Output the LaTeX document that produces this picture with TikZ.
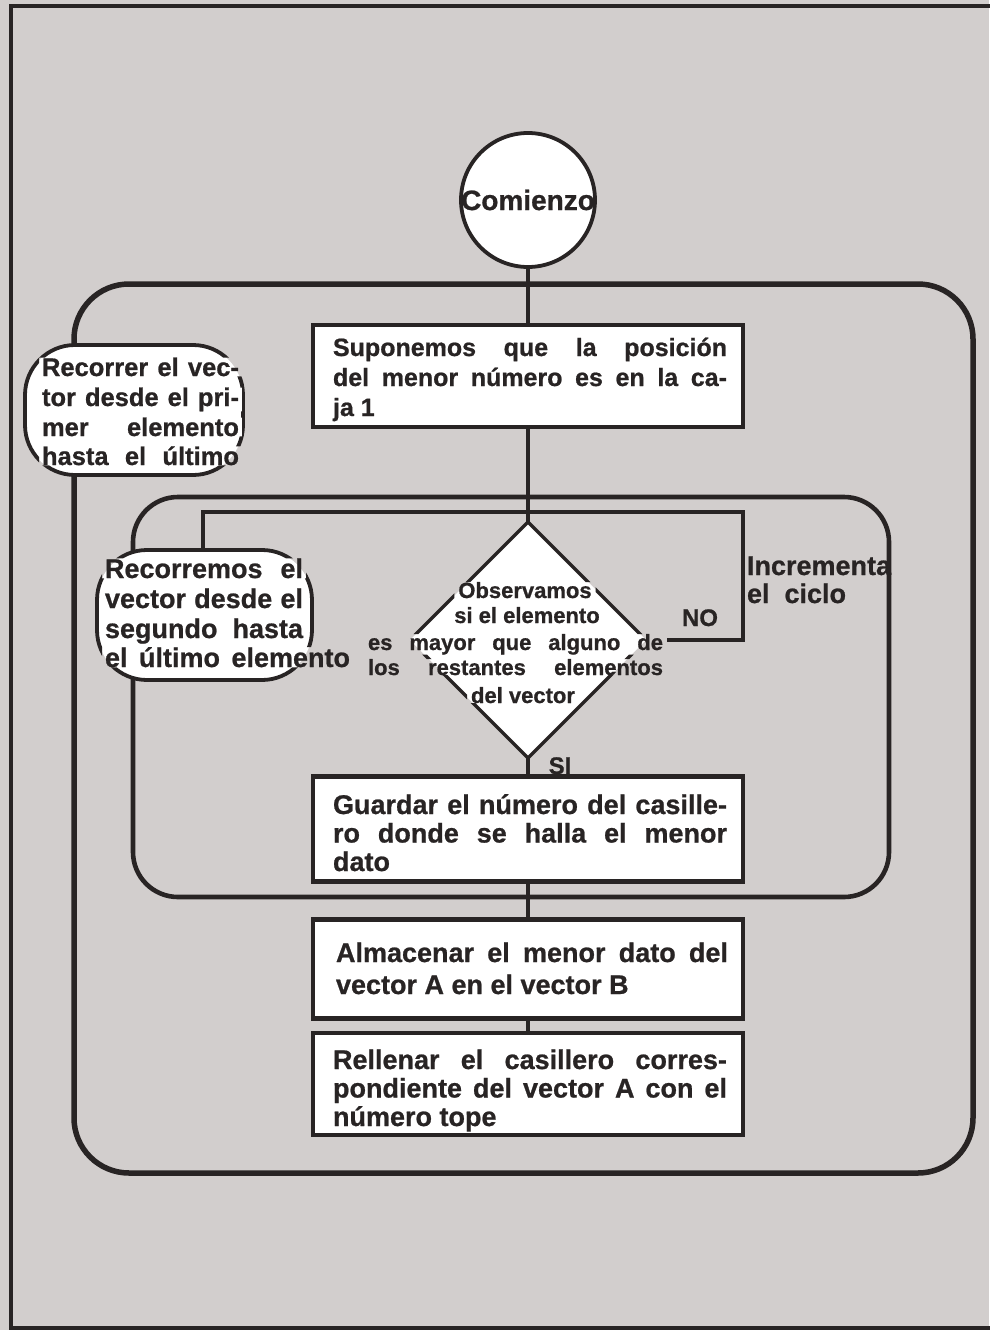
\documentclass[tikz,border=0pt]{standalone}
\usepackage{fontspec}
\setmainfont{Liberation Sans}[BoldFeatures={FakeBold=0.8}]
\usetikzlibrary{shapes.geometric}
\definecolor{paper}{RGB}{210,206,205}
\definecolor{ink}{RGB}{40,36,36}
\newcommand\jl[2]{{\spaceskip=0pt\xspaceskip=0pt\makebox[#1pt][s]{#2}}}
\newcommand\boxlines[2]{\parbox[t]{394pt}{\baselineskip=#1pt #2}}
\begin{document}
\begin{tikzpicture}[x=1pt,y=-1pt,
  every node/.style={inner sep=0pt,outer sep=0pt,text=ink},
  conn/.style={draw=ink,line width=3.4pt},
  procbox/.style={draw=ink,line width=4.2pt,fill=white,minimum width=430pt},
  boxtxt/.style={anchor=base west,font=\fontsize{27}{29}\selectfont\bfseries},
  labtxt/.style={font=\fontsize{25.5}{30}\selectfont\bfseries,anchor=base west},
  labtxtb/.style={font=\fontsize{27}{30}\selectfont\bfseries,anchor=base west},
  diatxt/.style={font=\fontsize{22}{25}\selectfont\bfseries},
  labshape/.style={fill=white,rounded corners=50pt},
  labborder/.style={draw=ink,line width=3.8pt,rounded corners=50pt}
]
\fill[paper] (0,0) rectangle (989,1330);
\useasboundingbox (0,0) rectangle (989,1330);
% frame
\draw[ink,line width=3.5pt] (995,6) -- (11,6) -- (11,1328) -- (995,1328);
% loops
\draw[ink,line width=5.5pt,rounded corners=55pt] (74,284) rectangle (973,1173);
\draw[ink,line width=4.6pt,rounded corners=45pt] (133,497) rectangle (889,897);
% start circle
\node[circle,draw=ink,line width=3.8pt,fill=white,minimum size=134pt,
      font=\fontsize{28}{30}\selectfont\bfseries] (start) at (528,200) {\makebox[0pt]{Comienzo}};
% process boxes
\node[procbox,minimum height=102pt] (b1) at (528,376) {};
\node[procbox,minimum height=105pt] (b2) at (528,829) {};
\node[procbox,minimum height=99pt] (b3) at (528,969) {};
\node[procbox,minimum height=102pt] (b4) at (528,1084) {};
% decision diamond (fill)
\node[diamond,aspect=1,fill=white,minimum width=236pt,minimum height=236pt] (dec) at (528,640) {};
% loop labels (fill)
\node[labshape,minimum width=218pt,minimum height=130pt] (l1) at (134,410) {};
\node[labshape,minimum width=215pt,minimum height=130pt] (l2) at (204.5,615) {};
% main connectors
\draw[conn] (start.south) -- (b1.north);
\draw[conn] (b1.south) -- (dec.north);
\draw[conn] (dec.south) -- (b2.north);
\draw[conn] (b2.south) -- (b3.north);
\draw[conn] (b3.south) -- (b4.north);
\coordinate (noTop) at (743,512);
\coordinate (noLeft) at (203,512);
% box texts
\node[boxtxt,font=\fontsize{25}{29}\selectfont\bfseries] (b1t) at (333,356)
  {\boxlines{30}{\jl{394}{Suponemos que la posición}\\\jl{394}{del menor número es en la ca-}\\ja 1}};
\node[boxtxt] (b2t) at (333,814)
  {\boxlines{28.5}{\jl{394}{Guardar el número del casille-}\\\jl{394}{ro donde se halla el menor}\\dato}};
\node[boxtxt] (b3t) at (336,962)
  {\boxlines{32}{\jl{392}{Almacenar el menor dato del}\\vector A en el vector B}};
\node[boxtxt] (b4t) at (333,1069)
  {\boxlines{28.5}{\jl{394}{Rellenar el casillero corres-}\\\jl{394}{pondiente del vector A con el}\\número tope}};
% diamond and label texts
\node[diatxt,anchor=base] (d1) at (525,598) {Observamos};
\node[diatxt,anchor=base] (d2) at (527,623) {si el elemento};
\node[diatxt,anchor=base west] (d3) at (368,650) {\jl{295}{es mayor que alguno de}};
\node[diatxt,anchor=base west] (d4) at (368,675) {\jl{295}{los restantes elementos}};
\node[diatxt,anchor=base] (d5) at (523,703) {del vector};
\node[labtxt] (p1) at (42,376) {\jl{197}{Recorrer el vec-}};
\node[labtxt] (p2) at (42,406) {\jl{197}{tor desde el pri-}};
\node[labtxt] (p3) at (42,436) {\jl{197}{mer elemento}};
\node[labtxt] (p4) at (42,465) {\jl{197}{hasta el último}};
\node[labtxtb] (q1) at (105,578) {\jl{198}{Recorremos el}};
\node[labtxtb] (q2) at (105,608) {\jl{198}{vector desde el}};
\node[labtxtb] (q3) at (105,638) {\jl{198}{segundo hasta}};
\node[labtxtb] (q4) at (105,667) {\jl{245}{el último elemento}};
\node[labtxtb] (inc1) at (747,575) {Incrementa};
\node[labtxtb] (inc2) at (747,603) {el\ \ ciclo};
\node[font=\fontsize{24}{26}\selectfont\bfseries,anchor=base] (no) at (700,626) {NO};
\node[font=\fontsize{24}{26}\selectfont\bfseries,anchor=base] (si) at (560,774) {SI};
% borders broken where the text crosses them
\begin{scope}[even odd rule]
\clip (-5,-5) rectangle (995,1335)
  ([shift={(-4,0)}]d1.south west) rectangle ([shift={(4,0)}]d1.north east)
  ([shift={(-4,0)}]d2.south west) rectangle ([shift={(4,0)}]d2.north east)
  ([shift={(-4,0)}]d3.south west) rectangle ([shift={(4,0)}]d3.north east)
  ([shift={(-4,0)}]d4.south west) rectangle ([shift={(4,0)}]d4.north east)
  ([shift={(-4,0)}]d5.south west) rectangle ([shift={(4,0)}]d5.north east)
  ([shift={(-3,0)}]p1.south west) rectangle ([shift={(3,0)}]p1.north east)
  ([shift={(-3,0)}]p2.south west) rectangle ([shift={(3,0)}]p2.north east)
  ([shift={(-3,0)}]p3.south west) rectangle ([shift={(3,0)}]p3.north east)
  ([shift={(-3,0)}]p4.south west) rectangle ([shift={(3,0)}]p4.north east)
  ([shift={(-3,0)}]q1.south west) rectangle ([shift={(3,0)}]q1.north east)
  ([shift={(-3,0)}]q2.south west) rectangle ([shift={(3,0)}]q2.north east)
  ([shift={(-3,0)}]q3.south west) rectangle ([shift={(3,0)}]q3.north east)
  ([shift={(-3,0)}]q4.south west) rectangle ([shift={(3,0)}]q4.north east);
\draw[ink,line width=3.4pt] (dec.north) -- (dec.east) -- (dec.south) -- (dec.west) -- cycle;
\draw[labborder] (l1.south west) rectangle (l1.north east);
\draw[labborder] (l2.south west) rectangle (l2.north east);
\draw[conn,line width=4pt] (dec.east) -| (noTop) -- (noLeft) -- (noLeft |- l2.north);
\end{scope}
\end{tikzpicture}
\end{document}
